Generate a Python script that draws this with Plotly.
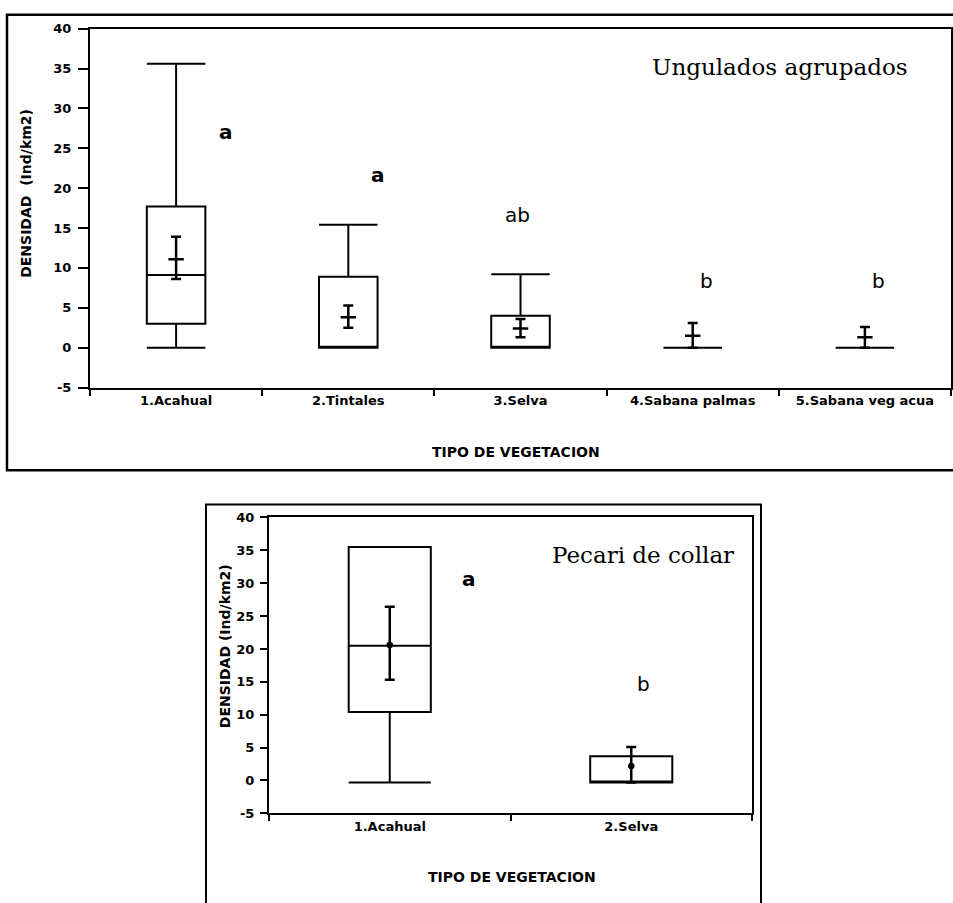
import plotly.graph_objects as go

W, H = 953, 903

# ---------------- data: top panel (Ungulados agrupados) ----------------
cats_top = ["1.Acahual", "2.Tintales", "3.Selva", "4.Sabana palmas", "5.Sabana veg acua"]
q1_top = [3.0, 0.0, 0.0, 0.0, 0.0]
med_top = [9.1, 0.0, 0.0, 0.0, 0.0]
q3_top = [17.7, 8.9, 4.0, 0.0, 0.0]
lo_top = [0.0, 0.0, 0.0, 0.0, 0.0]
hi_top = [35.6, 15.4, 9.2, 0.0, 0.0]
mean_top = [11.1, 3.8, 2.4, 1.5, 1.3]
mean_hi_top = [13.9, 5.3, 3.6, 3.1, 2.6]
mean_lo_top = [8.6, 2.5, 1.3, 0.0, 0.0]
letters_top = ["a", "a", "ab", "b", "b"]
letter_y_top = [27.1, 21.6, 16.6, 8.4, 8.4]

# ---------------- data: bottom panel (Pecari de collar) ----------------
cats_bot = ["1.Acahual", "2.Selva"]
q1_bot = [10.4, -0.3]
med_bot = [20.5, -0.3]
q3_bot = [35.5, 3.7]
lo_bot = [-0.3, -0.3]
hi_bot = [35.5, 3.7]
mean_bot = [20.6, 2.2]
mean_hi_bot = [26.4, 5.1]
mean_lo_bot = [15.3, -0.3]
letters_bot = ["a", "b"]
letter_y_bot = [30.6, 14.7]

yticks = [-5, 0, 5, 10, 15, 20, 25, 30, 35, 40]
ytick_labels = ["-5", "0", "5", "10", "15", "20", "25", "30", "35", "40"]


def px(x):
    return x / W


def py(y):
    return 1 - y / H


fig = go.Figure()

box_style = dict(
    fillcolor="white",
    line=dict(color="black", width=2),
    whiskerwidth=1,
    width=0.34,
    showlegend=False,
    hoverinfo="skip",
    boxpoints=False,
)

fig.add_trace(go.Box(
    x=cats_top, q1=q1_top, median=med_top, q3=q3_top,
    lowerfence=lo_top, upperfence=hi_top,
    xaxis="x", yaxis="y", **box_style))

fig.add_trace(go.Box(
    x=cats_bot, q1=q1_bot, median=med_bot, q3=q3_bot,
    lowerfence=lo_bot, upperfence=hi_bot,
    xaxis="x2", yaxis="y2", **box_style))


def err_trace(cats, mean, hi, lo, xa, ya, marker_symbol, msize):
    return go.Scatter(
        x=cats, y=mean, mode="markers", xaxis=xa, yaxis=ya,
        marker=dict(symbol=marker_symbol, size=msize, color="black",
                    line=dict(color="black", width=2.5)),
        error_y=dict(type="data", symmetric=False,
                     array=[h - m for h, m in zip(hi, mean)],
                     arrayminus=[m - l for m, l in zip(mean, lo)],
                     color="black", thickness=2.5, width=5),
        showlegend=False, hoverinfo="skip")


fig.add_trace(err_trace(cats_top, mean_top, mean_hi_top, mean_lo_top, "x", "y", "line-ew", 11))
fig.add_trace(err_trace(cats_bot, mean_bot, mean_hi_bot, mean_lo_bot, "x2", "y2", "circle", 4))

tick_font = dict(family="DejaVu Sans", size=13, color="black", weight="bold")

axis_common = dict(showgrid=False, zeroline=False, showline=True, linecolor="black",
                   linewidth=2, mirror=True, ticks="outside", tickcolor="black",
                   tickwidth=2, tickfont=tick_font)

fig.update_layout(
    width=W, height=H,
    margin=dict(l=0, r=0, t=0, b=0),
    paper_bgcolor="white", plot_bgcolor="white",
    boxmode="overlay",
    showlegend=False,
    xaxis=dict(domain=[px(90), px(951)], anchor="y", type="category",
               categoryorder="array", categoryarray=cats_top,
               range=[-0.5, len(cats_top) - 0.5],
               tickson="boundaries", ticklen=6, **axis_common),
    yaxis=dict(domain=[py(387), py(22)], anchor="x", range=[-5, 40],
               tickvals=yticks, ticktext=ytick_labels, ticklen=10,
               ticklabelstandoff=4, **axis_common),
    xaxis2=dict(domain=[px(269), px(752)], anchor="y2", type="category",
                categoryorder="array", categoryarray=cats_bot,
                range=[-0.5, len(cats_bot) - 0.5],
                tickson="boundaries", ticklen=6, **axis_common),
    yaxis2=dict(domain=[py(820), py(519)], anchor="x2", range=[-5, 40],
                tickvals=yticks, ticktext=ytick_labels, ticklen=7,
                ticklabelstandoff=3, **axis_common),
)

annotations = []
title_font = dict(family="DejaVu Sans", size=14, color="black", weight="bold")
serif_font = dict(family="DejaVu Serif", size=23, color="black")

annotations += [
    dict(text="Ungulados agrupados", x=px(780), y=py(61), xref="paper", yref="paper",
         xanchor="center", yanchor="middle", showarrow=False, font=serif_font),
    dict(text="Pecari de collar", x=px(643), y=py(557), xref="paper", yref="paper",
         xanchor="center", yanchor="middle", showarrow=False, font=serif_font),
    dict(text="DENSIDAD  (Ind/km2)", x=px(26), y=py(190), xref="paper", yref="paper",
         textangle=-90, xanchor="center", yanchor="middle", showarrow=False, font=title_font),
    dict(text="DENSIDAD (Ind/km2)", x=px(225), y=py(650), xref="paper", yref="paper",
         textangle=-90, xanchor="center", yanchor="middle", showarrow=False, font=title_font),
    dict(text="TIPO DE VEGETACION", x=px(516), y=py(453), xref="paper", yref="paper",
         xanchor="center", yanchor="middle", showarrow=False, font=title_font),
    dict(text="TIPO DE VEGETACION", x=px(512), y=py(885), xref="paper", yref="paper",
         xanchor="center", yanchor="middle", showarrow=False, font=title_font),
]

letter_dx_top = [0.29, 0.17, -0.02, 0.08, 0.08]
for i, (lab, ly) in enumerate(zip(letters_top, letter_y_top)):
    bold = "bold" if lab == "a" else "normal"
    annotations.append(dict(text=lab, x=i + letter_dx_top[i], y=ly, xref="x", yref="y",
                            showarrow=False, xanchor="center", yanchor="middle",
                            font=dict(family="DejaVu Sans", size=20, color="black", weight=bold)))

letter_dx_bot = [0.33, 0.05]
for i, (lab, ly) in enumerate(zip(letters_bot, letter_y_bot)):
    bold = "bold" if lab == "a" else "normal"
    annotations.append(dict(text=lab, x=i + letter_dx_bot[i], y=ly, xref="x2", yref="y2",
                            showarrow=False, xanchor="center", yanchor="middle",
                            font=dict(family="DejaVu Sans", size=20, color="black", weight=bold)))

fig.update_layout(annotations=annotations)

fig.update_layout(shapes=[
    dict(type="rect", xref="paper", yref="paper",
         x0=px(7), y0=py(471), x1=1.02, y1=py(8),
         line=dict(color="black", width=2.5), fillcolor="rgba(0,0,0,0)", layer="below"),
    dict(type="rect", xref="paper", yref="paper",
         x0=px(206), y0=-0.02, x1=px(761), y1=py(506),
         line=dict(color="black", width=2), fillcolor="rgba(0,0,0,0)", layer="below"),
])

fig.write_html("out.html",
               config={"displayModeBar": False, "staticPlot": True},
               post_script="document.body.style.margin='0';document.body.style.overflow='hidden';")
